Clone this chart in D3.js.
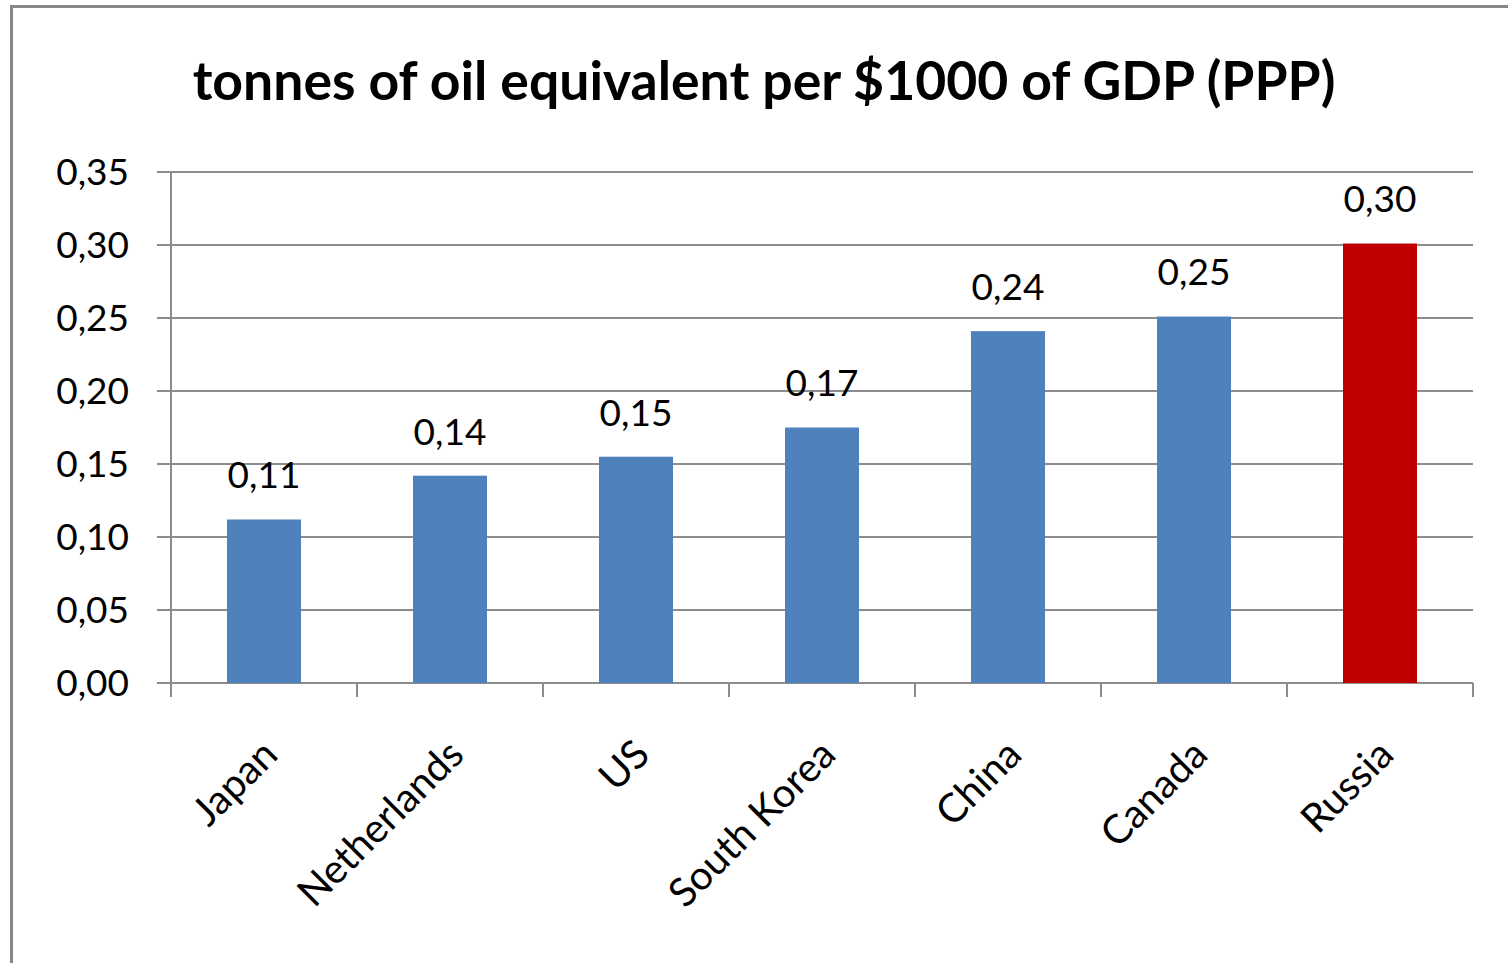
<!DOCTYPE html>
<html>
<head>
<meta charset="utf-8">
<script src="https://cdn.jsdelivr.net/npm/d3@7"></script>
<style>
  body { margin: 0; background: #fff; }
  text { font-family: Lato, "Open Sans", sans-serif; fill: #000; }
</style>
</head>
<body>
<script>
// data
var countries = ["Japan", "Netherlands", "US", "South Korea", "China", "Canada", "Russia"];
var values = [0.112, 0.142, 0.155, 0.175, 0.241, 0.251, 0.301];
var barColors = ["#4f81bd", "#4f81bd", "#4f81bd", "#4f81bd", "#4f81bd", "#4f81bd", "#c00000"];
var yTicks = [0, 0.05, 0.10, 0.15, 0.20, 0.25, 0.30, 0.35];
var title = "tonnes of oil equivalent per $1000 of GDP (PPP)";

var width = 1508, height = 963;
var plotLeft = 171, plotRight = 1473, plotTop = 172, plotBottom = 683;

var svg = d3.select("body").append("svg")
    .attr("width", width)
    .attr("height", height);

// chart frame (runs off the right and bottom edges)
svg.append("rect")
    .attr("x", 11.5).attr("y", 6.5)
    .attr("width", 1600).attr("height", 1100)
    .attr("fill", "#fff")
    .attr("stroke", "#878787")
    .attr("stroke-width", 3);

var comma = function (v) { return d3.format(".2f")(v).replace(".", ","); };

var xb = d3.scaleBand().domain(countries).range([plotLeft, plotRight]);
var y = d3.scaleLinear().domain([0, 0.35]).range([plotBottom, plotTop]);

// gridlines
svg.append("g").selectAll("line").data(yTicks).enter().append("line")
    .attr("x1", plotLeft - 14).attr("x2", plotRight)
    .attr("y1", function (d) { return y(d); })
    .attr("y2", function (d) { return y(d); })
    .attr("stroke", "#8c8c8c").attr("stroke-width", 2);

// y axis line
svg.append("line")
    .attr("x1", plotLeft).attr("x2", plotLeft).attr("y1", plotTop).attr("y2", plotBottom + 14)
    .attr("stroke", "#8c8c8c").attr("stroke-width", 2);

// x tick marks at band edges
var edges = countries.map(function (c) { return xb(c); }).concat([plotRight]);
svg.append("g").selectAll("line").data(edges.slice(1)).enter().append("line")
    .attr("x1", function (d) { return d; }).attr("x2", function (d) { return d; })
    .attr("y1", plotBottom).attr("y2", plotBottom + 14)
    .attr("stroke", "#8c8c8c").attr("stroke-width", 2);

// y labels
svg.append("g").selectAll("text").data(yTicks).enter().append("text")
    .attr("x", 129)
    .attr("y", function (d) { return y(d); })
    .attr("dy", "0.35em")
    .attr("text-anchor", "end")
    .style("font-size", "37px")
    .text(comma);

// bars
svg.append("g").selectAll("rect").data(values).enter().append("rect")
    .attr("x", function (d, i) { return xb(countries[i]) + (xb.bandwidth() - 74) / 2; })
    .attr("y", function (d) { return y(d); })
    .attr("width", 74)
    .attr("height", function (d) { return plotBottom - y(d); })
    .attr("fill", function (d, i) { return barColors[i]; });

// value labels
svg.append("g").selectAll("text").data(values).enter().append("text")
    .attr("x", function (d, i) { return xb(countries[i]) + xb.bandwidth() / 2; })
    .attr("y", function (d) { return y(d) - 44; })
    .attr("text-anchor", "middle")
    .attr("dy", "0.35em")
    .style("font-size", "37px")
    .text(comma);

// category labels, rotated
svg.append("g").selectAll("text").data(countries).enter().append("text")
    .attr("transform", function (d) {
        return "translate(" + (xb(d) + xb.bandwidth() / 2 + 6) + "," + (plotBottom + 64) + ") rotate(-45)";
    })
    .attr("text-anchor", "end")
    .attr("dy", "0.35em")
    .style("font-size", "40px")
    .text(function (d) { return d; });

// title
svg.append("text")
    .attr("x", 764).attr("y", 100)
    .attr("text-anchor", "middle")
    .style("font-size", "53.5px")
    .style("font-weight", "bold")
    .text(title);
</script>
</body>
</html>
